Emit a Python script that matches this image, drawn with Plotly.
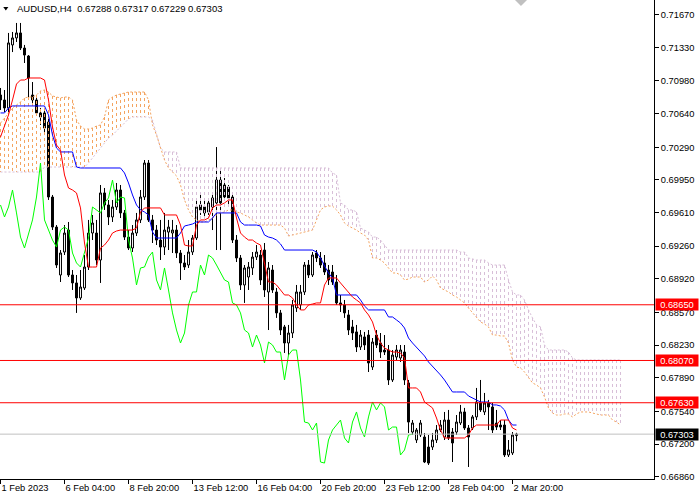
import plotly.graph_objects as go

FONT = 'Liberation Sans'

# H4 bars from 1 Feb 2023 12:00, one per index
opens = [
    0.70834, 0.70782, 0.70699, 0.71355, 0.71428, 0.71480, 0.71323, 0.71240, 0.70834, 0.70782,
    0.70647, 0.70647, 0.70553, 0.69772, 0.69459, 0.68960, 0.69199, 0.69428, 0.68960, 0.68877,
    0.68721, 0.68825, 0.69043, 0.69397, 0.69397, 0.69116, 0.69814, 0.69689, 0.69564, 0.69668,
    0.69845, 0.69606, 0.69355, 0.69241, 0.69397, 0.69533, 0.69772, 0.70126, 0.69533, 0.69428,
    0.69324, 0.69251, 0.69407, 0.69397, 0.69428, 0.69189, 0.69085, 0.69064, 0.69199, 0.69345,
    0.69689, 0.69668, 0.69616, 0.69668, 0.69710, 0.69949, 0.69897, 0.69876, 0.69772, 0.69324,
    0.69137, 0.68856, 0.68939, 0.69033, 0.69147, 0.69168, 0.69220, 0.68783, 0.69012, 0.68783,
    0.68565, 0.68419, 0.68252, 0.68356, 0.68617, 0.68648, 0.68783, 0.69064, 0.68960, 0.69189,
    0.69137, 0.69085, 0.69012, 0.68991, 0.68887, 0.68669, 0.68648, 0.68544, 0.68419, 0.68367,
    0.68210, 0.68315, 0.68335, 0.68002, 0.68335, 0.68252, 0.68179, 0.68179, 0.67867, 0.68106,
    0.68096, 0.68158, 0.67836, 0.67325, 0.67242, 0.67294, 0.67273, 0.67169, 0.67169, 0.67242,
    0.67346, 0.67273, 0.67450, 0.67325, 0.67325, 0.67419, 0.67534, 0.67367, 0.67367, 0.67482,
    0.67628, 0.67534, 0.67628, 0.67586, 0.67419, 0.67398, 0.67398, 0.67086, 0.67107, 0.67288,
]
highs = [
    0.70907, 0.70886, 0.71480, 0.71490, 0.71584, 0.71584, 0.71355, 0.71250, 0.70969, 0.70824,
    0.70699, 0.70699, 0.70595, 0.69793, 0.69480, 0.69220, 0.69480, 0.69512, 0.69012, 0.68960,
    0.69012, 0.69168, 0.69533, 0.69585, 0.69533, 0.69897, 0.69866, 0.69741, 0.69741, 0.69918,
    0.69897, 0.69637, 0.69428, 0.69480, 0.69606, 0.69845, 0.70157, 0.70157, 0.69585, 0.69480,
    0.69533, 0.69606, 0.69533, 0.69533, 0.69480, 0.69220, 0.69168, 0.69324, 0.69376, 0.69741,
    0.69793, 0.69741, 0.69741, 0.69793, 0.70292, 0.70053, 0.69970, 0.69897, 0.69793, 0.69376,
    0.69168, 0.69064, 0.69095, 0.69199, 0.69272, 0.69220, 0.69293, 0.69095, 0.69064, 0.68825,
    0.68596, 0.68440, 0.68440, 0.68700, 0.68856, 0.68856, 0.69095, 0.69116, 0.69199, 0.69220,
    0.69199, 0.69168, 0.69064, 0.69064, 0.68960, 0.68752, 0.68700, 0.68596, 0.68492, 0.68440,
    0.68387, 0.68367, 0.68387, 0.68304, 0.68387, 0.68356, 0.68335, 0.68231, 0.68179, 0.68231,
    0.68231, 0.68231, 0.67867, 0.67450, 0.67367, 0.67450, 0.67315, 0.67294, 0.67315, 0.67398,
    0.67450, 0.67534, 0.67555, 0.67367, 0.67502, 0.67607, 0.67576, 0.67398, 0.67502, 0.67784,
    0.67867, 0.67732, 0.67659, 0.67628, 0.67555, 0.67450, 0.67450, 0.67242, 0.67325, 0.67317,
]
lows = [
    0.70678, 0.70657, 0.70657, 0.71281, 0.71386, 0.71302, 0.71167, 0.70813, 0.70751, 0.70626,
    0.70522, 0.70417, 0.69741, 0.69428, 0.69033, 0.68887, 0.69168, 0.68939, 0.68804, 0.68565,
    0.68700, 0.68804, 0.69012, 0.69324, 0.69064, 0.68877, 0.69637, 0.69480, 0.69512, 0.69637,
    0.69553, 0.69324, 0.69220, 0.69199, 0.69366, 0.69501, 0.69741, 0.69512, 0.69293, 0.69272,
    0.69116, 0.69168, 0.69220, 0.69189, 0.69137, 0.68908, 0.69012, 0.69033, 0.69168, 0.69324,
    0.69585, 0.69574, 0.69585, 0.69428, 0.69220, 0.69220, 0.69741, 0.69689, 0.69293, 0.69095,
    0.68804, 0.68669, 0.68804, 0.68960, 0.69116, 0.68856, 0.68731, 0.68387, 0.68773, 0.68513,
    0.68335, 0.68148, 0.68127, 0.68304, 0.68575, 0.68596, 0.68752, 0.68929, 0.68939, 0.69095,
    0.69033, 0.68960, 0.68856, 0.68856, 0.68648, 0.68575, 0.68513, 0.68335, 0.68283, 0.68158,
    0.68179, 0.68179, 0.67950, 0.67971, 0.68200, 0.68096, 0.68127, 0.67815, 0.67846, 0.68075,
    0.68054, 0.67815, 0.67315, 0.67294, 0.67211, 0.67273, 0.67002, 0.66982, 0.67138, 0.67211,
    0.67325, 0.67242, 0.67242, 0.67013, 0.67294, 0.67398, 0.67346, 0.66961, 0.67346, 0.67450,
    0.67534, 0.67502, 0.67346, 0.67315, 0.67346, 0.67346, 0.67065, 0.67065, 0.67086, 0.67229,
]
closes = [
    0.70782, 0.70699, 0.71376, 0.71428, 0.71480, 0.71323, 0.71250, 0.71011, 0.70782, 0.70647,
    0.70605, 0.70490, 0.69772, 0.69459, 0.69064, 0.69189, 0.69397, 0.68960, 0.68877, 0.68721,
    0.68835, 0.69043, 0.69397, 0.69501, 0.69116, 0.69814, 0.69689, 0.69564, 0.69668, 0.69845,
    0.69606, 0.69355, 0.69241, 0.69397, 0.69533, 0.69772, 0.70126, 0.69533, 0.69428, 0.69324,
    0.69251, 0.69428, 0.69459, 0.69428, 0.69189, 0.69085, 0.69043, 0.69199, 0.69345, 0.69668,
    0.69637, 0.69606, 0.69710, 0.69762, 0.69949, 0.69710, 0.69772, 0.69762, 0.69324, 0.69137,
    0.68856, 0.69033, 0.69043, 0.69147, 0.69199, 0.68908, 0.68804, 0.69033, 0.68804, 0.68565,
    0.68387, 0.68252, 0.68356, 0.68648, 0.68783, 0.68783, 0.69064, 0.68960, 0.69168, 0.69137,
    0.69064, 0.68991, 0.68908, 0.68887, 0.68669, 0.68648, 0.68565, 0.68387, 0.68356, 0.68210,
    0.68335, 0.68231, 0.68044, 0.68262, 0.68231, 0.68158, 0.68158, 0.67867, 0.68127, 0.68179,
    0.68179, 0.67867, 0.67429, 0.67419, 0.67346, 0.67419, 0.67013, 0.67002, 0.67242, 0.67346,
    0.67398, 0.67450, 0.67263, 0.67211, 0.67429, 0.67534, 0.67367, 0.67273, 0.67482, 0.67638,
    0.67555, 0.67628, 0.67586, 0.67346, 0.67377, 0.67377, 0.67086, 0.67138, 0.67294, 0.67303,
]

# ichimoku lines as shown on the chart
tenkan = [
    0.70397, 0.70522, 0.70626, 0.70782, 0.70948, 0.70990, 0.70990, 0.71011, 0.71011, 0.71011,
    0.71011, 0.70990, 0.70782, 0.70501, 0.70313, 0.70261, 0.70001, 0.69866, 0.69845, 0.69814,
    0.69658, 0.69293, 0.69043, 0.69043, 0.69043, 0.69241, 0.69272, 0.69324, 0.69397, 0.69418,
    0.69428, 0.69428, 0.69428, 0.69428, 0.69449, 0.69616, 0.69658, 0.69658, 0.69658, 0.69658,
    0.69658, 0.69585, 0.69585, 0.69585, 0.69585, 0.69480, 0.69272, 0.69262, 0.69262, 0.69480,
    0.69533, 0.69533, 0.69553, 0.69658, 0.69689, 0.69689, 0.69710, 0.69741, 0.69741, 0.69553,
    0.69397, 0.69355, 0.69324, 0.69324, 0.69293, 0.69272, 0.69064, 0.68887, 0.68887, 0.68856,
    0.68804, 0.68752, 0.68752, 0.68721, 0.68648, 0.68596, 0.68596, 0.68648, 0.68658, 0.68669,
    0.68669, 0.68856, 0.68929, 0.68929, 0.68929, 0.68877, 0.68825, 0.68783, 0.68731, 0.68700,
    0.68669, 0.68596, 0.68544, 0.68471, 0.68335, 0.68252, 0.68200, 0.68179, 0.68158, 0.68158,
    0.68148, 0.68096, 0.67784, 0.67784, 0.67784, 0.67742, 0.67638, 0.67607, 0.67576, 0.67471,
    0.67346, 0.67263, 0.67263, 0.67263, 0.67263, 0.67263, 0.67263, 0.67294, 0.67367, 0.67398,
    0.67398, 0.67398, 0.67398, 0.67398, 0.67398, 0.67450, 0.67450, 0.67450, 0.67367, 0.67346,
]
kijun = [
    0.70647, 0.70647, 0.70699, 0.70720, 0.70720, 0.70720, 0.70720, 0.70720, 0.70720, 0.70720,
    0.70720, 0.70720, 0.70626, 0.70417, 0.70282, 0.70241, 0.70241, 0.70241, 0.70241, 0.70084,
    0.70074, 0.70074, 0.70074, 0.70074, 0.70074, 0.70074, 0.70074, 0.70074, 0.70074, 0.70074,
    0.70074, 0.70022, 0.69918, 0.69793, 0.69689, 0.69637, 0.69616, 0.69585, 0.69408, 0.69345,
    0.69345, 0.69345, 0.69345, 0.69345, 0.69345, 0.69397, 0.69470, 0.69480, 0.69491, 0.69512,
    0.69512, 0.69512, 0.69512, 0.69553, 0.69606, 0.69606, 0.69606, 0.69606, 0.69606, 0.69606,
    0.69512, 0.69480, 0.69480, 0.69480, 0.69480, 0.69470, 0.69376, 0.69355, 0.69345, 0.69324,
    0.69283, 0.69220, 0.69220, 0.69220, 0.69220, 0.69220, 0.69220, 0.69220, 0.69220, 0.69199,
    0.69137, 0.69054, 0.68981, 0.68929, 0.68752, 0.68752, 0.68752, 0.68752, 0.68752, 0.68752,
    0.68700, 0.68637, 0.68596, 0.68596, 0.68596, 0.68596, 0.68596, 0.68523, 0.68523, 0.68492,
    0.68460, 0.68408, 0.68304, 0.68252, 0.68210, 0.68158, 0.68117, 0.68054, 0.68012, 0.67971,
    0.67919, 0.67867, 0.67804, 0.67742, 0.67742, 0.67742, 0.67742, 0.67700, 0.67679, 0.67659,
    0.67638, 0.67638, 0.67638, 0.67607, 0.67607, 0.67596, 0.67555, 0.67450, 0.67398, 0.67398,
]
# senkou spans run 26 bars past the last candle
span_a = [
    0.70542, 0.70595, 0.70657, 0.70699, 0.70730, 0.70761, 0.70803, 0.70813, 0.70813, 0.70834,
    0.70876, 0.70886, 0.70865, 0.70824, 0.70813, 0.70803, 0.70813, 0.70813, 0.70782, 0.70574,
    0.70511, 0.70480, 0.70480, 0.70490, 0.70511, 0.70522, 0.70605, 0.70782, 0.70813, 0.70834,
    0.70844, 0.70855, 0.70865, 0.70865, 0.70865, 0.70865, 0.70865, 0.70782, 0.70522, 0.70417,
    0.70282, 0.70157, 0.70074, 0.70032, 0.69991, 0.69897, 0.69741, 0.69637, 0.69564, 0.69533,
    0.69512, 0.69512, 0.69533, 0.69553, 0.69585, 0.69606, 0.69616, 0.69637, 0.69637, 0.69616,
    0.69606, 0.69585, 0.69564, 0.69533, 0.69501, 0.69480, 0.69480, 0.69480, 0.69480, 0.69480,
    0.69480, 0.69449, 0.69366, 0.69376, 0.69387, 0.69397, 0.69408, 0.69418, 0.69428, 0.69533,
    0.69637, 0.69668, 0.69678, 0.69678, 0.69637, 0.69585, 0.69501, 0.69470, 0.69449, 0.69428,
    0.69397, 0.69376, 0.69324, 0.69137, 0.69137, 0.69116, 0.69085, 0.69033, 0.68981, 0.68981,
    0.68960, 0.68908, 0.68918, 0.68939, 0.68939, 0.68939, 0.68887, 0.68908, 0.68950, 0.68908,
    0.68825, 0.68804, 0.68783, 0.68752, 0.68731, 0.68700, 0.68669, 0.68616, 0.68565, 0.68523,
    0.68471, 0.68450, 0.68419, 0.68335, 0.68335, 0.68325, 0.68325, 0.68252, 0.68075, 0.68002,
    0.67992, 0.67950, 0.67888, 0.67836, 0.67815, 0.67784, 0.67690, 0.67576, 0.67523, 0.67502,
    0.67502, 0.67513, 0.67513, 0.67482, 0.67513, 0.67534, 0.67534, 0.67534, 0.67523, 0.67513,
    0.67502, 0.67502, 0.67502, 0.67450, 0.67429, 0.67398,
]
span_b = [
    0.70032, 0.70032, 0.70032, 0.70032, 0.70032, 0.70032, 0.70032, 0.70032, 0.70032, 0.70032,
    0.70032, 0.70084, 0.70084, 0.70084, 0.70084, 0.70084, 0.70084, 0.70084, 0.70084, 0.70084,
    0.70084, 0.70084, 0.70126, 0.70178, 0.70241, 0.70292, 0.70345, 0.70386, 0.70417, 0.70459,
    0.70501, 0.70542, 0.70584, 0.70605, 0.70605, 0.70605, 0.70605, 0.70605, 0.70574, 0.70417,
    0.70282, 0.70241, 0.70241, 0.70241, 0.70241, 0.70074, 0.70074, 0.70074, 0.70074, 0.70074,
    0.70074, 0.70074, 0.70074, 0.70074, 0.70074, 0.70074, 0.70074, 0.70074, 0.70074, 0.70074,
    0.70074, 0.70074, 0.70074, 0.70074, 0.70074, 0.70074, 0.70074, 0.70074, 0.70074, 0.70074,
    0.70074, 0.70074, 0.70074, 0.70074, 0.70074, 0.70074, 0.70074, 0.70074, 0.70074, 0.70074,
    0.70074, 0.70074, 0.70074, 0.70022, 0.70001, 0.69710, 0.69689, 0.69637, 0.69637, 0.69616,
    0.69449, 0.69428, 0.69408, 0.69355, 0.69355, 0.69324, 0.69272, 0.69220, 0.69220, 0.69220,
    0.69220, 0.69220, 0.69220, 0.69220, 0.69220, 0.69220, 0.69220, 0.69220, 0.69220, 0.69220,
    0.69220, 0.69220, 0.69220, 0.69220, 0.69220, 0.69199, 0.69199, 0.69137, 0.69127, 0.69116,
    0.69116, 0.69116, 0.69085, 0.69064, 0.69064, 0.69064, 0.69064, 0.68908, 0.68783, 0.68752,
    0.68752, 0.68700, 0.68596, 0.68513, 0.68440, 0.68419, 0.68231, 0.68179, 0.68179, 0.68179,
    0.68179, 0.68179, 0.68158, 0.68096, 0.68075, 0.68075, 0.68075, 0.68075, 0.68075, 0.68075,
    0.68075, 0.68075, 0.68075, 0.68075, 0.68075, 0.68075,
]

levels = [0.68650, 0.68070, 0.67630]
chikou_shift = 26

x_ticks = [0, 16, 32, 48, 64, 80, 96, 112, 128]
x_labels = ['1 Feb 2023', '6 Feb 04:00', '8 Feb 20:00', '13 Feb 12:00', '16 Feb 04:00',
            '20 Feb 20:00', '23 Feb 12:00', '28 Feb 04:00', '2 Mar 20:00']
y_ticks = [0.71670, 0.71330, 0.70980, 0.70640, 0.70290, 0.69950, 0.69610, 0.69260,
           0.68920, 0.68570, 0.68230, 0.67890, 0.67540, 0.67200, 0.66860]


def hatch(color, up):
    xs, ys = [], []
    for i, (a, b) in enumerate(zip(span_a, span_b)):
        if (a >= b) == up:
            xs += [i, i, None]
            ys += [max(a, b), min(a, b), None]
    return go.Scatter(x=xs, y=ys, mode='lines', hoverinfo='skip', showlegend=False,
                      line=dict(color=color, width=1, dash='3px,3px'))


bars = list(range(len(closes)))

fig = go.Figure()
fig.add_trace(hatch('#F4A460', True))
fig.add_trace(hatch('#D8BFD8', False))
fig.add_scatter(x=list(range(len(span_b))), y=span_b, mode='lines', hoverinfo='skip',
                line=dict(color='#D8BFD8', width=1, dash='2px,2px'))
fig.add_scatter(x=list(range(len(span_a))), y=span_a, mode='lines', hoverinfo='skip',
                line=dict(color='#F4A460', width=1, dash='2px,2px'))

fig.add_trace(go.Candlestick(
    x=bars, open=opens, high=highs, low=lows, close=closes, hoverinfo='skip',
    increasing=dict(fillcolor='#FFFFFF', line=dict(color='#000000', width=1)),
    decreasing=dict(fillcolor='#000000', line=dict(color='#000000', width=1)),
))

fig.add_scatter(x=[i - chikou_shift for i in bars[chikou_shift:]], y=closes[chikou_shift:],
                mode='lines', hoverinfo='skip', line=dict(color='#00FF00', width=1))
fig.add_scatter(x=bars, y=kijun, mode='lines', hoverinfo='skip', line=dict(color='#0000FF', width=1))
fig.add_scatter(x=bars, y=tenkan, mode='lines', hoverinfo='skip', line=dict(color='#FF0000', width=1))

for lvl in levels:
    fig.add_shape(type='line', xref='paper', x0=0, x1=1, y0=lvl, y1=lvl,
                  line=dict(color='#FF0000', width=1))
fig.add_shape(type='line', xref='paper', x0=0, x1=1, y0=closes[-1], y1=closes[-1],
              line=dict(color='#C0C0C0', width=1))

for val, bg in [(lvl, '#FF0000') for lvl in levels] + [(closes[-1], '#000000')]:
    fig.add_annotation(x=1, xref='paper', xanchor='left', xshift=1, y=val, yref='y',
                       text=f'{val:.5f}', showarrow=False, bgcolor=bg, width=40, height=9,
                       borderpad=1, font=dict(family=FONT, size=9.3, color='#FFFFFF'))

# header with the last bar's OHLC
fig.add_annotation(x=0, xref='paper', xanchor='left', xshift=15, y=1, yref='paper',
                   yanchor='top', yshift=-1, showarrow=False,
                   text=f'AUDUSD,H4\u00a0 {opens[-1]:.5f} {highs[-1]:.5f} {lows[-1]:.5f} {closes[-1]:.5f}',
                   font=dict(family=FONT, size=9.5, color='#000000'))
fig.add_shape(type='path', xref='paper', yref='paper', fillcolor='#000000', line_width=0,
              path='M 0.005,0.9854 L 0.0128,0.9854 L 0.0089,0.9780 Z')
fig.add_shape(type='path', xref='paper', yref='paper', fillcolor='#C0C0C0', line_width=0,
              path='M 0.7875,1 L 0.8058,1 L 0.7966,0.9875 Z')

fig.update_layout(
    width=700, height=500, margin=dict(l=0, r=46, t=0, b=21),
    paper_bgcolor='#FFFFFF', plot_bgcolor='#FFFFFF', showlegend=False,
    font=dict(family=FONT, size=9.3, color='#000000'),
    xaxis=dict(range=[-0.125, 163.375], rangeslider=dict(visible=False),
               tickvals=x_ticks, ticktext=x_labels, ticklabelposition='outside right',
               ticks='outside', ticklen=4, tickcolor='#000000', showgrid=False, zeroline=False,
               showline=True, linecolor='#000000', linewidth=1),
    yaxis=dict(range=[0.66836, 0.71823], side='right', tickvals=y_ticks,
               ticktext=[f'{v:.5f}' for v in y_ticks], ticks='outside', ticklen=4,
               tickcolor='#000000', showgrid=False, zeroline=False,
               showline=True, linecolor='#000000', linewidth=1),
)

# page has a default 8px body margin; drop it so the figure sits at the window corner
fig.write_html('out.html', config={'displayModeBar': False},
               post_script="document.body.style.margin='0';document.body.style.overflow='hidden';")
